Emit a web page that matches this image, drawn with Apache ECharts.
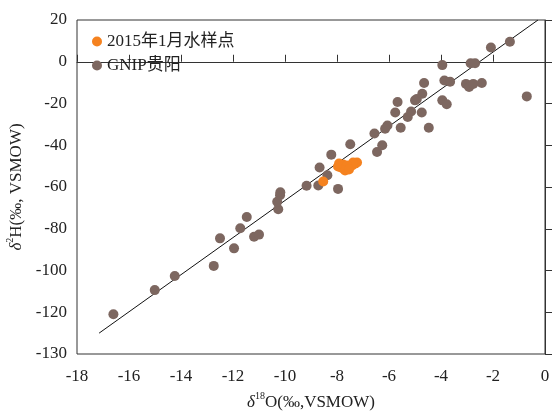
<!DOCTYPE html>
<html>
<head>
<meta charset="utf-8">
<script src="https://cdn.jsdelivr.net/npm/echarts@6/dist/echarts.min.js"></script>
<style>
  html, body { margin: 0; padding: 0; background: #fff; }
  #chart { width: 552px; height: 411px; }
</style>
</head>
<body>
<div id="chart"></div>
<script>
// Axis ranges and tick labels
var xMin = -18, xMax = 0, xStep = 2;
var yMin = -140, yMax = 20, yStep = 20;
var yTickLabels = ['-130', '-120', '-100', '-80', '-60', '-40', '-20', '0', '20'];

// δ18O / δ2H of January 2015 water samples
var sampleO = [-8.53, -7.96, -7.85, -7.73, -7.65, -7.58, -7.50, -7.77, -7.92, -7.42, -7.31, -7.23, -7.38, -7.62, -7.69, -7.54];
var sampleH = [-57.4, -50.2, -50.7, -51.2, -51.6, -50.7, -50.2, -49.2, -48.8, -49.7, -48.8, -48.3, -48.3, -49.7, -52.1, -51.6];

// GNIP Guiyang precipitation isotopes
var gnipO = [-16.6, -15.01, -14.24, -12.74, -12.5, -11.96, -11.72, -11.47, -11.19, -11.0,
  -10.26, -10.3, -10.19, -10.18, -9.17, -8.72, -8.67, -8.37, -8.22, -7.96,
  -7.49, -6.56, -6.46, -6.26, -6.06, -6.15, -5.55, -5.28, -5.76, -5.67,
  -5.15, -5.0, -4.93, -4.72, -4.74, -4.65, -4.47, -3.95, -3.87, -3.65,
  -3.95, -3.78, -3.04, -2.92, -2.76, -2.43, -2.86, -2.69, -2.08, -1.35, -0.7];
var gnipH = [-121.0, -109.4, -102.6, -97.8, -84.6, -89.4, -79.8, -74.4, -83.8, -82.8,
  -70.7, -67.1, -63.9, -62.5, -59.4, -59.3, -50.7, -54.4, -44.5, -60.9,
  -39.5, -34.4, -43.2, -40.0, -30.5, -32.1, -31.6, -26.5, -24.3, -19.3,
  -23.8, -18.5, -17.9, -15.3, -24.3, -10.2, -31.6, -1.6, -9.0, -9.6,
  -18.5, -20.4, -10.6, -12.1, -10.6, -10.2, -0.7, -0.7, 6.8, 9.6, -16.6];

// Meteoric water line end points
var lineO = [-17.15, -0.27];
var lineH = [-130, 20];

function zip(a, b) { return a.map(function (v, i) { return [v, b[i]]; }); }

var serif = '"Liberation Serif", "Times New Roman", "Noto Sans CJK SC", serif';
var labelColor = '#222';

var nameRich = {
  d: { fontFamily: serif, fontSize: 17, fontStyle: 'italic', color: labelColor, lineHeight: 20, verticalAlign: 'bottom' },
  sup: { fontFamily: serif, fontSize: 10, color: labelColor, lineHeight: 20, verticalAlign: 'top' },
  t: { fontFamily: serif, fontSize: 17, color: labelColor, lineHeight: 20, verticalAlign: 'bottom' }
};

var chart = echarts.init(document.getElementById('chart'), null, { renderer: 'canvas' });
chart.setOption({
  animation: false,
  backgroundColor: '#fff',
  textStyle: { fontFamily: serif },
  grid: {
    left: 77, right: 7, top: 20, bottom: 57,
    containLabel: false, outerBoundsMode: 'none',
    show: true, borderColor: '#333', borderWidth: 1, backgroundColor: 'transparent'
  },
  legend: {
    orient: 'vertical', left: 87, top: 28, itemGap: 7,
    itemWidth: 10, itemHeight: 10,
    textStyle: { fontFamily: serif, fontSize: 17, color: labelColor },
    data: [
      { name: '2015年1月水样点', icon: 'circle' },
      { name: 'GNIP贵阳', icon: 'circle' }
    ]
  },
  xAxis: {
    type: 'value', min: xMin, max: xMax, interval: xStep,
    axisLine: { lineStyle: { color: '#333', width: 1 } },
    axisTick: { inside: true, length: 7, lineStyle: { color: '#333' } },
    splitLine: { show: false },
    axisLabel: { fontFamily: serif, fontSize: 17, color: labelColor, margin: 14, hideOverlap: false },
    name: '{d|δ}{sup|18}{t|O(‰,VSMOW)}',
    nameLocation: 'middle', nameGap: 37,
    nameTextStyle: { fontFamily: serif, fontSize: 17, color: labelColor, rich: nameRich }
  },
  yAxis: {
    type: 'value', min: yMin, max: yMax, interval: yStep,
    axisLine: { lineStyle: { color: '#333', width: 1 } },
    axisTick: { inside: true, length: 7, lineStyle: { color: '#333' } },
    splitLine: { show: false },
    axisLabel: {
      fontFamily: serif, fontSize: 17, color: labelColor, margin: 10, hideOverlap: false,
      formatter: function (v) { return yTickLabels[Math.round((v - yMin) / yStep)]; }
    },
    name: '{d|δ}{sup|2}{t|H(‰, VSMOW)}',
    nameLocation: 'middle', nameGap: 52, nameRotate: 90,
    nameTextStyle: { fontFamily: serif, fontSize: 17, color: labelColor, rich: nameRich }
  },
  series: [
    {
      name: 'LMWL', type: 'line', data: zip(lineO, lineH),
      symbol: 'none', silent: true,
      lineStyle: { color: '#111', width: 1 }, z: 1
    },
    {
      name: 'GNIP贵阳', type: 'scatter', data: zip(gnipO, gnipH),
      symbolSize: 10, itemStyle: { color: '#7d6760', opacity: 1 }, z: 2
    },
    {
      name: '2015年1月水样点', type: 'scatter', data: zip(sampleO, sampleH),
      symbolSize: 10, itemStyle: { color: '#f5821f', opacity: 1 }, z: 3
    }
  ]
});
</script>
</body>
</html>
